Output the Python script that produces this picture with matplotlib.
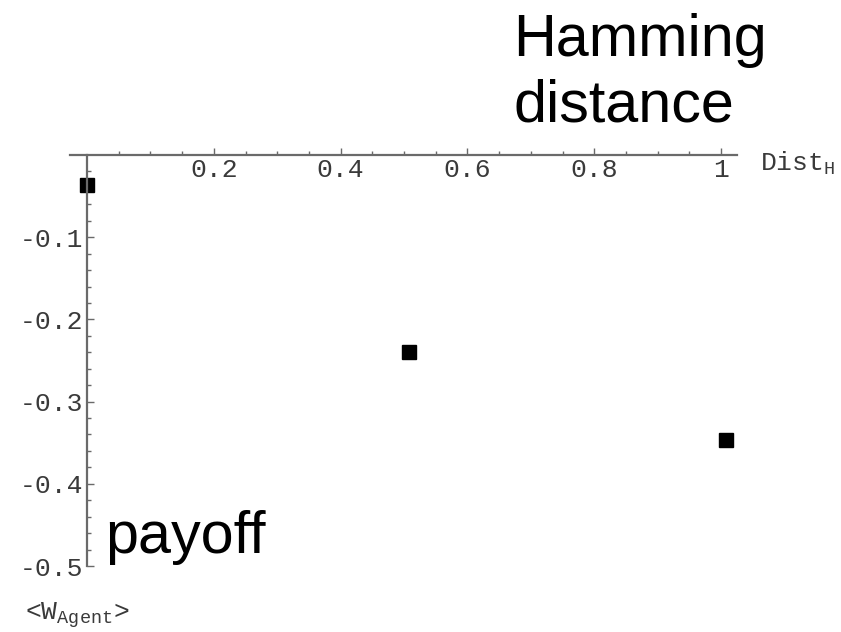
import matplotlib
matplotlib.use("Agg")
import matplotlib.pyplot as plt
from matplotlib.ticker import FixedLocator

# Average agent payoff versus Hamming distance
dist_h = [0.0, 0.508, 1.008]
payoff = [-0.037, -0.240, -0.347]

x_ticks = [0.2, 0.4, 0.6, 0.8, 1.0]
x_tick_labels = ["0.2", "0.4", "0.6", "0.8", "1"]
y_ticks = [-0.1, -0.2, -0.3, -0.4, -0.5]
y_tick_labels = ["-0.1", "-0.2", "-0.3", "-0.4", "-0.5"]

plt.rcParams["mathtext.fontset"] = "custom"
plt.rcParams["mathtext.tt"] = "Liberation Mono"
plt.rcParams["mathtext.rm"] = "Liberation Mono"

W, H = 841, 632
fig = plt.figure(figsize=(W / 100, H / 100), dpi=100)
fig.patch.set_facecolor("white")

# axes placed so the origin sits at (87, 155) px
x0_px, y0_px = 87.0, 155.0
sx, sy = 634.0, 822.0
xlim = (-0.05, 1.05)
ylim = (-0.52, 0.02)
left_px = x0_px + xlim[0] * sx
right_px = x0_px + xlim[1] * sx
top_px = y0_px - ylim[1] * sy
bot_px = y0_px - ylim[0] * sy
ax = fig.add_axes([left_px / W, 1 - bot_px / H,
                   (right_px - left_px) / W, (bot_px - top_px) / H])
ax.set_xlim(*xlim)
ax.set_ylim(*ylim)
ax.set_facecolor("none")

axis_color = "#6a6a6a"
label_color = "#3a3a3a"
mono = "Liberation Mono"

for side in ("top", "right"):
    ax.spines[side].set_visible(False)
ax.spines["bottom"].set_position(("data", 0))
ax.spines["left"].set_position(("data", 0))
ax.spines["bottom"].set_bounds(-0.027, 1.025)
ax.spines["left"].set_bounds(-0.5, 0)
for side in ("bottom", "left"):
    ax.spines[side].set_color(axis_color)
    ax.spines[side].set_linewidth(1.6)

# minor ticks only inside the drawn axis ranges
x_minor = [i * 0.05 for i in range(1, 20) if i % 4 != 0]
y_minor = [-i * 0.02 for i in range(1, 25) if i % 5 != 0]

ax.xaxis.set_major_locator(FixedLocator(x_ticks))
ax.xaxis.set_minor_locator(FixedLocator(x_minor))
ax.yaxis.set_major_locator(FixedLocator(y_ticks))
ax.yaxis.set_minor_locator(FixedLocator(y_minor))
ax.set_xticklabels(x_tick_labels)
ax.set_yticklabels(y_tick_labels)

ax.tick_params(which="both", direction="in", color=axis_color, width=1.0,
               labelcolor=label_color, labelsize=19)
ax.tick_params(which="major", length=5)
ax.tick_params(which="minor", length=3)
ax.tick_params(axis="x", pad=2)
ax.tick_params(axis="y", pad=3)
for lbl in ax.get_xticklabels() + ax.get_yticklabels():
    lbl.set_fontfamily(mono)

ax.plot(dist_h, payoff, linestyle="none", marker="s", markersize=10.5,
        color="black", clip_on=False)

# axis labels in the corners
fig.text(760 / W, 1 - 163 / H, r"Dist$_{\mathtt{H}}$", fontfamily=mono,
         fontsize=19, color=label_color, ha="left", va="center")
fig.text(25 / W, 1 - 615 / H, r"<W$_{\mathtt{Agent}}$>", fontfamily=mono,
         fontsize=19, color=label_color, ha="left", va="center")

# annotations
fig.text(513 / W, 1 - 56 / H, "Hamming", fontfamily="Liberation Sans",
         fontsize=42.7, color="black", ha="left", va="baseline")
fig.text(513 / W, 1 - 122 / H, "distance", fontfamily="Liberation Sans",
         fontsize=42.7, color="black", ha="left", va="baseline")
fig.text(105 / W, 1 - 553 / H, "payoff", fontfamily="Liberation Sans",
         fontsize=42.7, color="black", ha="left", va="baseline")

fig.savefig("out.png", dpi=100, facecolor="white")
